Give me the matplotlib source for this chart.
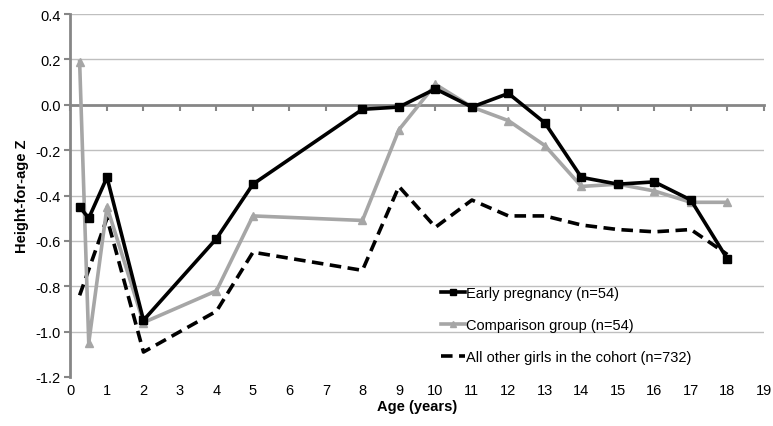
import matplotlib
matplotlib.use("Agg")
import matplotlib.pyplot as plt

plt.rcParams['font.family'] = ['Liberation Sans', 'DejaVu Sans']

# Data
age_early = [0.25, 0.5, 1, 2, 4, 5, 8, 9, 10, 11, 12, 13, 14, 15, 16, 17, 18]
early = [-0.45, -0.50, -0.32, -0.95, -0.59, -0.35, -0.02, -0.01, 0.07, -0.01,
         0.05, -0.08, -0.32, -0.35, -0.34, -0.42, -0.68]

age_comp = [0.25, 0.5, 1, 2, 4, 5, 8, 9, 10, 11, 12, 13, 14, 15, 16, 17, 18]
comp = [0.19, -1.05, -0.45, -0.96, -0.82, -0.49, -0.51, -0.11, 0.09, -0.01,
        -0.07, -0.18, -0.36, -0.35, -0.38, -0.43, -0.43]

age_other = [0.25, 1, 2, 4, 5, 8, 9, 10, 11, 12, 13, 14, 15, 16, 17, 18]
other = [-0.84, -0.50, -1.09, -0.91, -0.65, -0.73, -0.36, -0.54, -0.42, -0.49,
         -0.49, -0.53, -0.55, -0.56, -0.55, -0.66]

labels = ["Early pregnancy (n=54)", "Comparison group (n=54)",
          "All other girls in the cohort (n=732)"]
xticks = list(range(0, 20))
yticks = [0.4, 0.2, 0.0, -0.2, -0.4, -0.6, -0.8, -1.0, -1.2]

FS = 10.5

fig = plt.figure(figsize=(7.73, 4.27), dpi=100)
ax = fig.add_axes([0.0912, 0.1148, 0.897, 0.850])

grid_c = '#bfbfbf'
axis_c = '#868686'

ax.set_xlim(0, 19)
ax.set_ylim(-1.2, 0.4)
ax.set_yticks(yticks)
ax.set_yticklabels([f"{v:.1f}" for v in yticks])
for v in yticks:
    if v not in (0.0, -1.2):
        ax.axhline(v, color=grid_c, lw=1.0, zorder=0)

ax.spines['top'].set_visible(False)
ax.spines['right'].set_visible(False)
ax.spines['left'].set_color(axis_c)
ax.spines['left'].set_linewidth(2.0)
ax.spines['bottom'].set_position(('data', 0))
ax.spines['bottom'].set_color(axis_c)
ax.spines['bottom'].set_linewidth(2.0)
ax.set_xticks(xticks)
ax.tick_params(axis='x', which='both', direction='out', length=4, width=1.5,
               color=axis_c, labelbottom=False)
ax.tick_params(axis='y', direction='out', length=4, width=1.5, color=axis_c,
               labelsize=FS, labelcolor='#000000', pad=3)

sec = ax.secondary_xaxis('bottom')
sec.set_xticks(xticks)
sec.tick_params(length=0, labelsize=FS, pad=4)
sec.spines['bottom'].set_visible(False)
sec.set_xlabel("Age (years)", fontsize=FS, fontweight='bold', labelpad=2)

ax.set_ylabel("Height-for-age Z", fontsize=FS, fontweight='bold', labelpad=5)

l1, = ax.plot(age_early, early, color='black', lw=2.6, marker='s', ms=5.5,
              label=labels[0], zorder=4)
l2, = ax.plot(age_comp, comp, color='#a6a6a6', lw=2.6, marker='^', ms=5.5,
              label=labels[1], zorder=3)
l3, = ax.plot(age_other, other, color='black', lw=2.6, ls=(0, (3.2, 1.8)),
              label=labels[2], zorder=2)

ax.legend(handles=[l1, l2, l3], loc='upper left',
          bbox_to_anchor=(0.5605, 0.345), bbox_transform=fig.transFigure,
          frameon=False, fontsize=FS, handlelength=1.7, handletextpad=0.05,
          labelspacing=1.25, borderpad=0, markerscale=0.8)

fig.savefig("out.png", dpi=100)
